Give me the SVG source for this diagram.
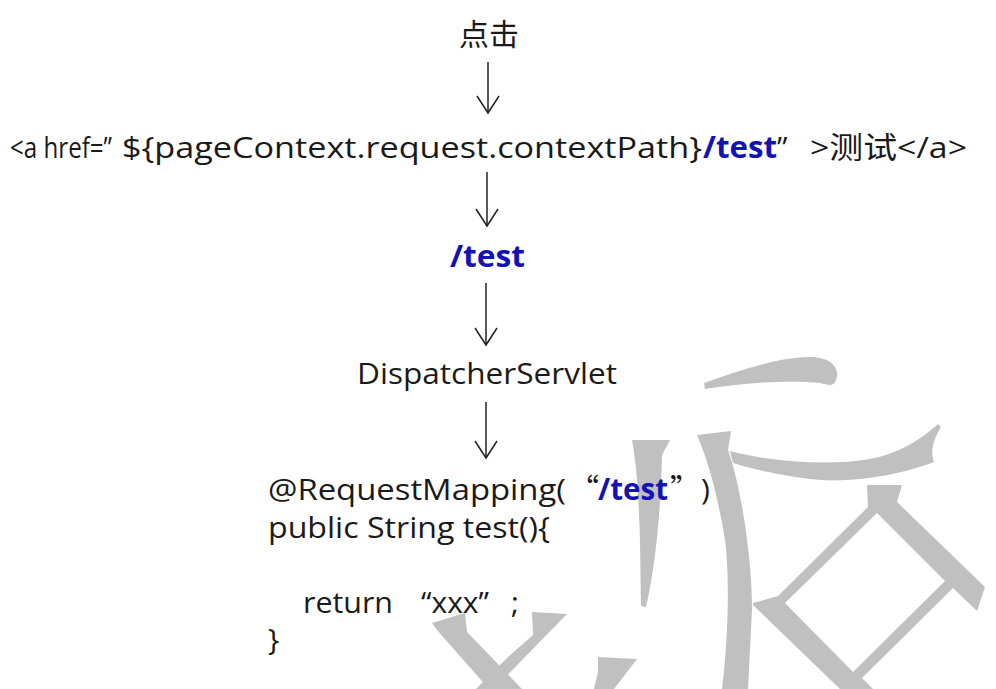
<svg xmlns="http://www.w3.org/2000/svg" width="996" height="689" viewBox="0 0 996 689">
<style>
.t{font-family:"Open Sans","Noto Sans CJK SC",sans-serif;font-size:30px;fill:#1a1a1a}
.cjk{font-family:"Noto Sans CJK SC",sans-serif}
.b{font-weight:bold;fill:#1212b8}
.wm{fill:#c0c0c0;stroke:none}
.arr{stroke:#222;stroke-width:1.5;fill:none}
</style>
<defs>
<marker id="ah" markerWidth="20" markerHeight="24" viewBox="0 0 20 24" refX="18" refY="12" orient="auto" markerUnits="userSpaceOnUse">
<path d="M1,1 L18,12 L1,23" fill="none" stroke="#222" stroke-width="1.5"/>
</marker>
</defs>
<rect width="996" height="689" fill="#ffffff"/>
<g id="watermark">
<path class="wm" d="M632,440 L670,440 L662,455 C661,500 657,560 646,607 L641,606 C640,560 641,490 632,440 Z"/>
<path class="wm" d="M697,435 L731,431 L728,450 C742,490 752,560 752,610 L748,689 L722,689 C728,640 730,580 725,540 C720,510 712,470 697,435 Z"/>
<path class="wm" d="M704,383 C740,370 780,357 810,357 C835,357 840,372 836,380 C834,387 828,385 820,383 C790,380 750,382 705,389 Z"/>
<path class="wm" d="M730,451 C770,462 830,466 870,459 C900,453 920,440 938,424 L941,427 C933,440 930,452 934,462 C900,475 850,484 810,479 C780,475 755,470 733,463 Z"/>
<path class="wm" fill-rule="evenodd" d="M867,485 L902,485 L897,502 L985,587 L977,611 L953,588 L862,678 L873,689 L840,689 L753,605 L753,603 L778,596 L868,507 Z M877,513 L945,581 L853,672 L785,603 Z"/>
<path class="wm" d="M432,623 L465,613 L467,632 L522,689 L489,689 L437,630 Z"/>
<path class="wm" d="M532,612 L567,614 L525,657 L494,689 L476,689 L508,657 L533,635 Z"/>
<path class="wm" d="M598,657 L637,659 L614,689 L594,689 L598,672 Z"/>
</g>
<g id="connectors">
<line class="arr" x1="488" y1="62" x2="488" y2="113" marker-end="url(#ah)"/>
<line class="arr" x1="487" y1="172" x2="487" y2="226" marker-end="url(#ah)"/>
<line class="arr" x1="486" y1="283" x2="486" y2="345" marker-end="url(#ah)"/>
<line class="arr" x1="486" y1="402" x2="486" y2="458" marker-end="url(#ah)"/>
</g>
<g id="n1"><text class="t cjk" x="459" y="45" style="font-size:30px">点击</text></g>
<g id="n2">
<text class="t" y="158"><tspan x="10" textLength="102" lengthAdjust="spacingAndGlyphs">&lt;a href=”</tspan><tspan x="122" textLength="580" lengthAdjust="spacingAndGlyphs">${pageContext.request.contextPath}</tspan><tspan class="b" x="703" textLength="74" lengthAdjust="spacingAndGlyphs">/test</tspan><tspan x="777">”</tspan><tspan x="810" textLength="157" lengthAdjust="spacingAndGlyphs">&gt;测试&lt;/a&gt;</tspan></text>
</g>
<g id="n3"><text class="t b" x="450" y="267" textLength="75" lengthAdjust="spacingAndGlyphs">/test</text></g>
<g id="n4"><text class="t" x="357" y="384" textLength="260" lengthAdjust="spacingAndGlyphs">DispatcherServlet</text></g>
<g id="n5">
<text class="t" y="500"><tspan x="268" textLength="298" lengthAdjust="spacingAndGlyphs">@RequestMapping(</tspan><tspan class="cjk" x="569">“</tspan><tspan class="b" x="598" textLength="70" lengthAdjust="spacingAndGlyphs">/test</tspan><tspan class="cjk" x="670">”</tspan><tspan x="701">)</tspan></text>
<text class="t" x="268" y="538" textLength="282" lengthAdjust="spacingAndGlyphs">public String test(){</text>
<text class="t" y="613"><tspan x="303" textLength="90" lengthAdjust="spacingAndGlyphs">return</tspan><tspan x="421">“xxx”</tspan><tspan x="511">;</tspan></text>
<text class="t" x="268" y="650">}</text>
</g>
</svg>
